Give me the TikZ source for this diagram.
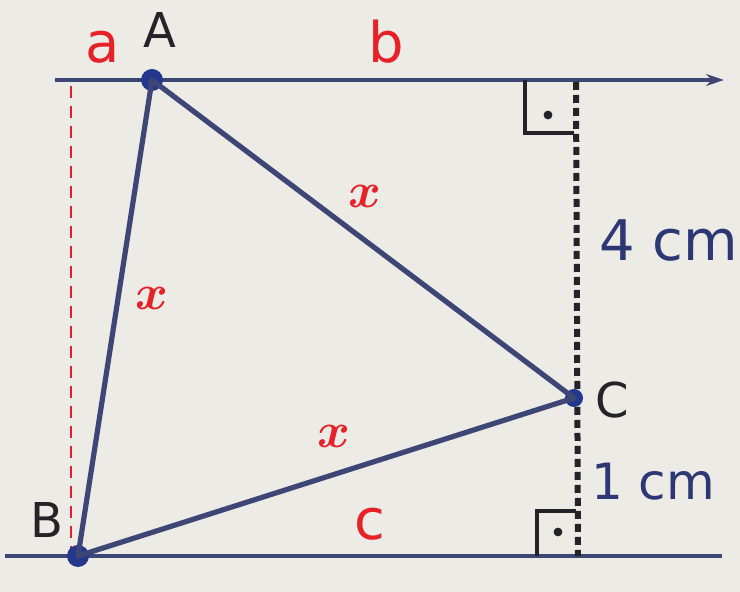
\documentclass[tikz,border=0pt]{standalone}
\usepackage{fontspec}
\setsansfont{DejaVu Sans}
\usetikzlibrary{arrows.meta, positioning}
\definecolor{paper1}{RGB}{236,235,229}
\definecolor{navy1}{RGB}{62,70,118}
\definecolor{blue1}{RGB}{35,55,140}
\definecolor{red1}{RGB}{232,32,40}
\definecolor{ink1}{RGB}{35,35,40}
\definecolor{text1}{RGB}{45,55,115}

\begin{document}
\begin{tikzpicture}[
    x=0.5pt, y=-0.5pt,
    parline/.style={line width=2.4pt, navy1},
    side/.style={line width=2.6pt, navy1, line cap=round},
    vertex/.style={circle, fill=blue1, inner sep=0pt, minimum size=11pt},
    perp/.style={line width=3pt, ink1, dash pattern=on 4pt off 2.5pt},
    helper/.style={line width=1pt, red1, dash pattern=on 6pt off 4pt},
    rangle/.style={line width=2.2pt, ink1},
    pname/.style={font=\sffamily\fontsize{24}{24}\selectfont, text=ink1, inner sep=0pt},
    lname/.style={font=\sffamily\fontsize{28}{28}\selectfont, text=red1, inner sep=0pt},
    xlab/.style={font=\fontsize{31}{31}\selectfont\boldmath, text=red1, inner sep=0pt},
    dist/.style={font=\sffamily\fontsize{#1}{#1}\selectfont, text=text1, inner sep=0pt},
  ]
  \useasboundingbox[fill=paper1] (0,0) rectangle (740,592);

  % Parallel lines b and c
  \coordinate (b1) at (55,80);
  \coordinate (b2) at (724,80);
  \coordinate (c1) at (5,556);
  \coordinate (c2) at (722,556);
  \draw[parline, -{Stealth[length=9pt, width=6pt]}] (b1) -- (b2);
  \draw[parline] (c1) -- (c2);

  % Line a (red, dashed)
  \coordinate (a1) at (71,86);
  \coordinate (a2) at (71,550);
  \draw[helper] (a1) -- (a2);

  % Perpendicular through C
  \coordinate (p1) at (576,82);
  \coordinate (p2) at (578,556);
  \draw[perp] (p1) -- (p2);

  % Right angle marks
  \draw[rangle] (525,80) |- (574,133);
  \fill[ink1] (548,115) circle (2.2pt);
  \draw[rangle] (537,556) |- (576,511);
  \fill[ink1] (558,532) circle (2.2pt);

  % Triangle
  \node[vertex] (A) at (152,80) {};
  \node[vertex] (B) at (78,556) {};
  \node[vertex, minimum size=9pt] (C) at (574,398) {};
  \draw[side] (A.center) -- (B.center);
  \draw[side] (A.center) -- (C.center);
  \draw[side] (B.center) -- (C.center);

  % Labels
  \node[pname] (lA) at (160,30) {A};
  \node[pname] (lB) at (47,520) {B};
  \node[pname] (lC) at (612,400) {C};
  \node[lname] (la) at (103,47) {a};
  \node[lname] (lb) at (386,42) {b};
  \node[lname] (lc) at (370,524) {c};
  \node[xlab] (xAC) at (365,196) {$x$};
  \node[xlab] (xAB) at (152,298) {$x$};
  \node[xlab] (xBC) at (334,436) {$x$};
  \node[dist=28] (d4) at (669,240) {4 cm};
  \node[dist=25] (d1) at (653,482) {1 cm};

\end{tikzpicture}
\end{document}
